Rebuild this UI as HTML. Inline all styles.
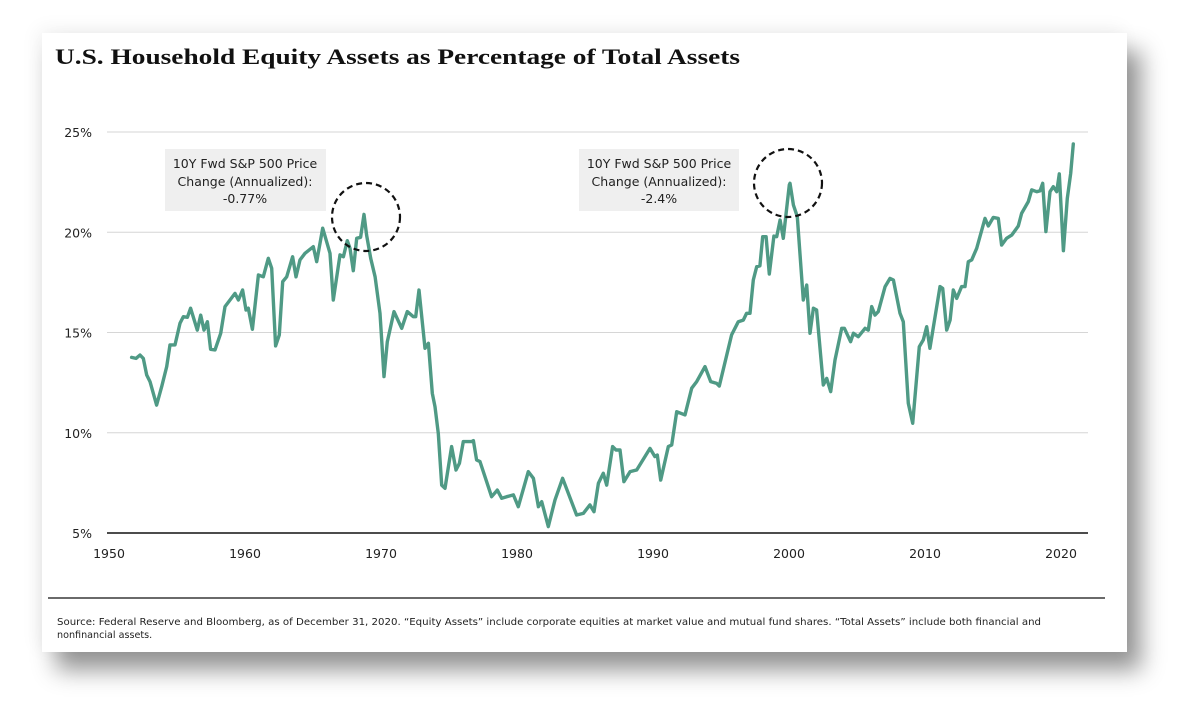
<!DOCTYPE html>
<html><head><meta charset="utf-8"><style>
html,body{margin:0;padding:0;background:#fff;width:1203px;height:714px;overflow:hidden}
#card{position:absolute;left:42px;top:33px;width:1085px;height:619px;background:#fff;box-shadow:14px 18px 22px rgba(0,0,0,0.42),-4px -4px 18px rgba(0,0,0,0.06)}
svg{position:absolute;left:0;top:0}
</style></head><body>
<div id="card"></div>
<svg id="chart" width="1203" height="714">
<text x="55" y="64" font-family="Liberation Serif, serif" font-weight="bold" font-size="22" fill="#111" textLength="685" lengthAdjust="spacingAndGlyphs">U.S. Household Equity Assets as Percentage of Total Assets</text>
<g id="grid"></g><g id="xt"></g><g id="series"></g>
<g>
<rect x="165" y="149" width="161" height="62" fill="#efefef"/>
<text font-family="DejaVu Sans, sans-serif" font-size="12.5" fill="#222" text-anchor="middle"><tspan x="245" y="168">10Y Fwd S&amp;P 500 Price</tspan><tspan x="245" y="186">Change (Annualized):</tspan><tspan x="245" y="203">-0.77%</tspan></text>
<ellipse cx="366" cy="217" rx="34" ry="34" fill="none" stroke="#111" stroke-width="2.2" stroke-dasharray="6,4"/>
</g>
<g>
<rect x="579" y="149" width="160" height="62" fill="#efefef"/>
<text font-family="DejaVu Sans, sans-serif" font-size="12.5" fill="#222" text-anchor="middle"><tspan x="659" y="168">10Y Fwd S&amp;P 500 Price</tspan><tspan x="659" y="186">Change (Annualized):</tspan><tspan x="659" y="203">-2.4%</tspan></text>
<ellipse cx="788" cy="183" rx="34" ry="34" fill="none" stroke="#111" stroke-width="2.2" stroke-dasharray="6,4"/>
</g>
<line x1="48" y1="598" x2="1105" y2="598" stroke="#111" stroke-width="1.2"/>
<text font-family="DejaVu Sans, sans-serif" font-size="9.6" fill="#222"><tspan x="57" y="625" textLength="984" lengthAdjust="spacingAndGlyphs">Source: Federal Reserve and Bloomberg, as of December 31, 2020. “Equity Assets” include corporate equities at market value and mutual fund shares. “Total Assets” include both financial and</tspan><tspan x="57" y="638">nonfinancial assets.</tspan></text>
</svg>
<script>
const years=[1951.81,1952.13,1952.43,1952.67,1952.92,1953.16,1953.65,1954.02,1954.39,1954.63,1955.00,1955.37,1955.61,1955.91,1956.15,1956.64,1956.89,1957.13,1957.38,1957.62,1957.94,1958.36,1958.68,1959.41,1959.66,1959.97,1960.22,1960.39,1960.69,1961.13,1961.49,1961.86,1962.11,1962.40,1962.67,1962.92,1963.21,1963.65,1963.90,1964.19,1964.56,1965.17,1965.42,1965.86,1966.40,1966.64,1967.13,1967.38,1967.67,1967.87,1968.11,1968.36,1968.65,1968.90,1969.09,1969.39,1969.71,1970.07,1970.37,1970.61,1971.10,1971.67,1972.08,1972.52,1972.70,1972.94,1973.38,1973.63,1973.92,1974.12,1974.36,1974.61,1974.85,1975.34,1975.66,1975.91,1976.20,1976.81,1976.94,1977.18,1977.43,1978.28,1978.70,1979.02,1979.39,1979.88,1980.24,1980.98,1981.35,1981.72,1981.96,1982.45,1982.94,1983.50,1984.53,1985.02,1985.51,1985.81,1986.13,1986.49,1986.74,1987.18,1987.43,1987.72,1988.01,1988.46,1988.95,1989.93,1990.29,1990.46,1990.71,1991.27,1991.52,1991.89,1992.50,1992.99,1993.36,1993.97,1994.39,1994.83,1995.02,1995.93,1996.42,1996.79,1997.03,1997.28,1997.52,1997.77,1998.01,1998.21,1998.46,1998.70,1999.04,1999.24,1999.49,1999.73,2000.17,2000.22,2000.47,2000.76,2001.20,2001.45,2001.69,2001.94,2002.18,2002.67,2002.92,2003.21,2003.53,2004.02,2004.22,2004.68,2004.88,2005.24,2005.74,2005.98,2006.23,2006.47,2006.71,2007.21,2007.57,2007.82,2008.31,2008.55,2008.92,2009.24,2009.73,2010.02,2010.27,2010.51,2011.25,2011.45,2011.74,2011.99,2012.23,2012.48,2012.84,2013.09,2013.33,2013.58,2013.95,2014.56,2014.80,2015.17,2015.54,2015.78,2016.15,2016.52,2017.01,2017.25,2017.74,2017.99,2018.36,2018.60,2018.80,2019.04,2019.34,2019.58,2019.83,2020.02,2020.32,2020.61,2020.86,2021.05];
const equityPct=[13.76,13.71,13.88,13.71,12.88,12.55,11.38,12.30,13.30,14.38,14.38,15.46,15.79,15.76,16.21,15.12,15.87,15.12,15.54,14.16,14.13,14.96,16.29,16.95,16.62,17.12,16.12,16.21,15.16,17.87,17.78,18.70,18.20,14.33,14.88,17.54,17.78,18.78,17.78,18.62,18.95,19.28,18.53,20.20,18.95,16.62,18.87,18.78,19.58,19.20,18.08,19.70,19.75,20.89,19.86,18.70,17.78,15.96,12.80,14.54,16.04,15.21,16.04,15.79,15.79,17.12,14.21,14.46,11.97,11.30,9.97,7.39,7.23,9.31,8.14,8.47,9.56,9.56,9.61,8.64,8.56,6.81,7.14,6.73,6.81,6.90,6.31,8.06,7.73,6.31,6.56,5.32,6.65,7.73,5.90,5.98,6.40,6.06,7.48,7.98,7.39,9.31,9.14,9.14,7.56,8.06,8.14,9.22,8.81,8.89,7.64,9.31,9.39,11.05,10.89,12.22,12.55,13.30,12.55,12.46,12.33,14.88,15.54,15.62,15.96,15.96,17.62,18.28,18.32,19.78,19.78,17.92,19.81,19.78,20.61,19.70,22.36,22.44,21.36,20.78,16.62,17.37,14.96,16.21,16.12,12.38,12.71,12.05,13.63,15.21,15.21,14.54,14.96,14.79,15.21,15.12,16.29,15.87,16.04,17.29,17.70,17.62,15.96,15.54,11.47,10.47,14.29,14.63,15.29,14.21,17.29,17.20,15.12,15.62,17.12,16.70,17.29,17.29,18.53,18.62,19.20,20.69,20.31,20.74,20.69,19.36,19.70,19.86,20.31,20.94,21.53,22.11,22.02,22.06,22.44,20.03,22.02,22.27,22.02,22.91,19.08,21.69,22.94,24.40];
const yTicks=[5,10,15,20,25];
const yTickLabels=["5%","10%","15%","20%","25%"];
const xTicks=[1950,1960,1970,1980,1990,2000,2010,2020];
const NS="http://www.w3.org/2000/svg";
const X=yr=>107+(yr-1950)*13.6;
const Y=v=>533-(v-5)*20.05;
function mk(tag,attrs,parent){const e=document.createElementNS(NS,tag);for(const k in attrs)e.setAttribute(k,attrs[k]);parent.appendChild(e);return e;}
const grid=document.getElementById('grid');
yTicks.forEach((t,i)=>{
  if(t>5){const l=mk('line',{x1:107,x2:1088,y1:Y(t),y2:Y(t),stroke:'#d6d6d6','stroke-width':1},grid);
  
  }
  const tx=mk('text',{x:92,y:Y(t)+5,'text-anchor':'end','font-family':'DejaVu Sans, sans-serif','font-size':12.5,fill:'#222'},grid);
  tx.textContent=yTickLabels[i];
  
  
});
const ax=mk('line',{x1:107,x2:1088,y1:Y(5),y2:Y(5),stroke:'#111','stroke-width':1.5},grid);


const xt=document.getElementById('xt');
xTicks.forEach(t=>{
  const tx=mk('text',{x:X(t)+2,y:558,'text-anchor':'middle','font-family':'DejaVu Sans, sans-serif','font-size':12.5,fill:'#222'},xt);
  tx.textContent=t;
  
  
});
const d=years.map((yr,i)=>(i?'L':'M')+X(yr).toFixed(1)+','+Y(equityPct[i]).toFixed(1)).join('');
const p=mk('path',{d:d,fill:'none',stroke:'#4f9a85','stroke-width':3.4,'stroke-linejoin':'round','stroke-linecap':'round'},document.getElementById('series'));


</script>
</body></html>
